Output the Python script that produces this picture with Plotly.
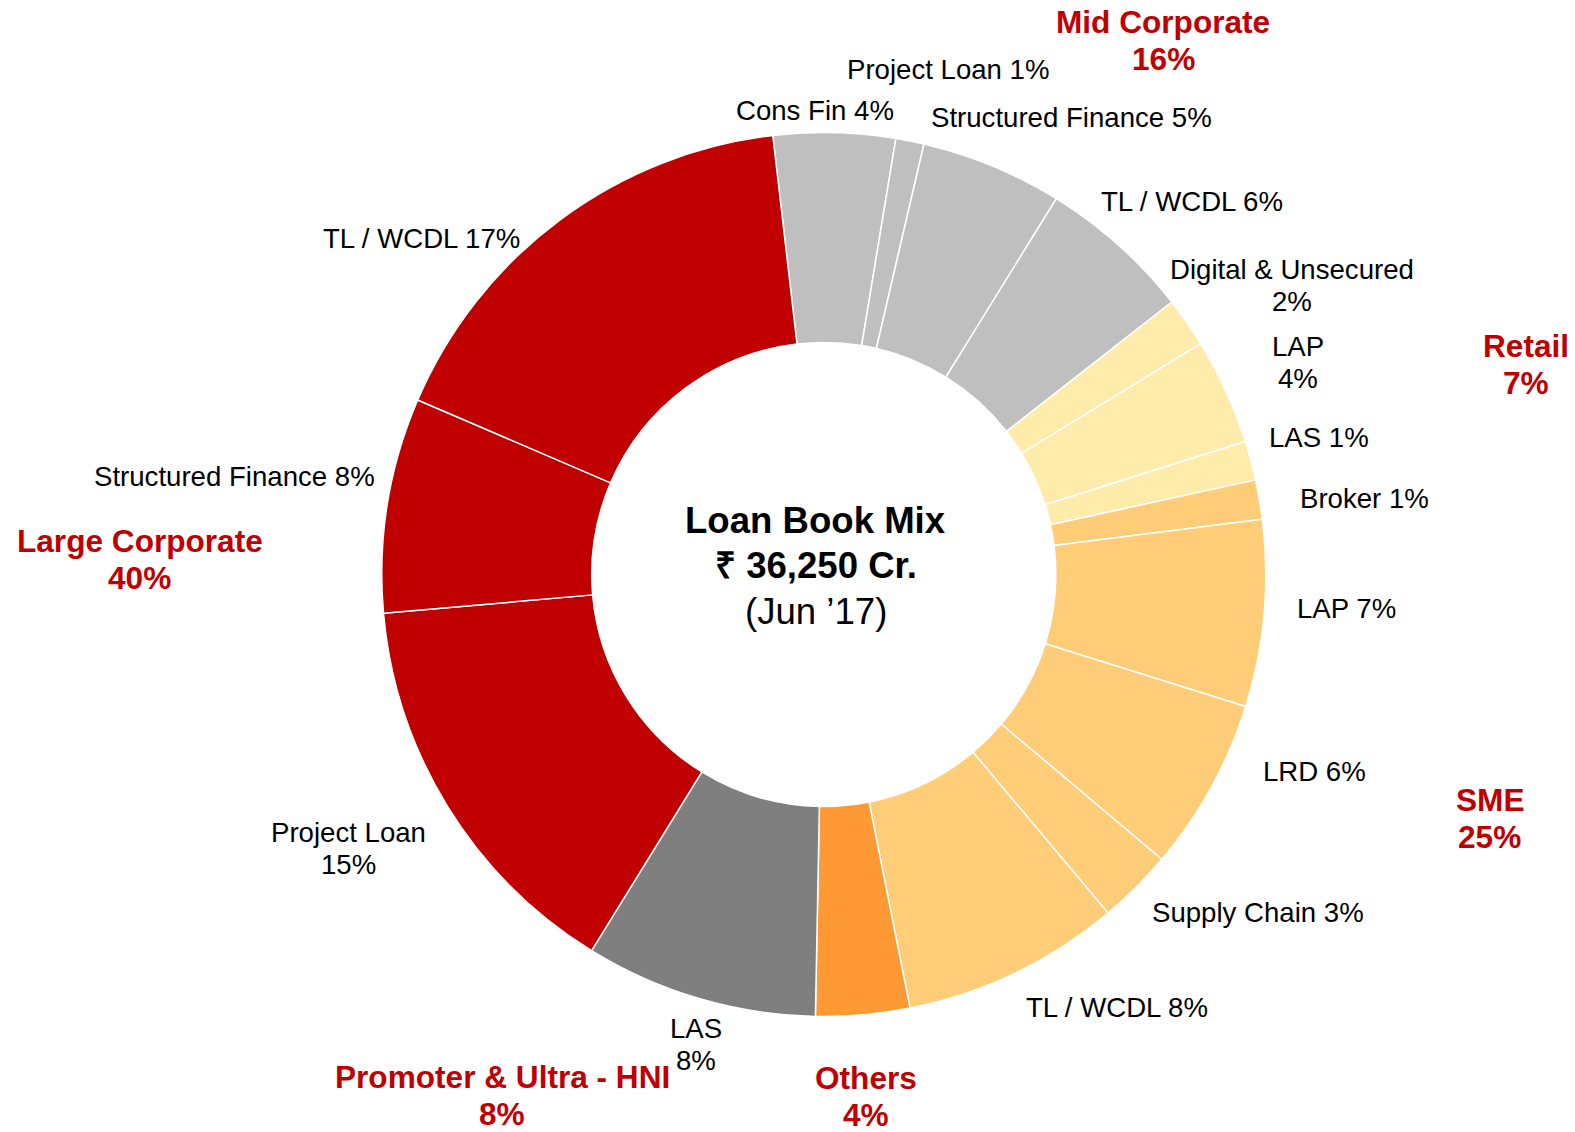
import plotly.graph_objects as go

# ---------------- data ----------------
segment_names = ["Cons Fin", "Project Loan", "Structured Finance", "TL / WCDL",
                 "Digital & Unsecured", "LAP", "LAS",
                 "Broker", "LAP", "LRD", "Supply Chain", "TL / WCDL",
                 "Others", "LAS",
                 "Project Loan", "Structured Finance", "TL / WCDL"]
segment_share = [4.45, 1.03, 5.18, 5.61,
                 1.83, 3.88, 1.43,
                 1.44, 6.82, 6.32, 2.74, 7.99,
                 3.43, 8.50,
                 14.80, 7.86, 16.70]
segment_label_pct = [4, 1, 5, 6,
                     2, 4, 1,
                     1, 7, 6, 3, 8,
                     None, 8,
                     15, 8, 17]
segment_group = ["Mid Corporate"] * 4 + ["Retail"] * 3 + ["SME"] * 5 + \
                ["Others", "Promoter & Ultra - HNI"] + ["Large Corporate"] * 3
group_names = ["Mid Corporate", "Retail", "SME", "Others",
               "Promoter & Ultra - HNI", "Large Corporate"]
group_pct = [16, 7, 25, 4, 8, 40]
center_title = ["Loan Book Mix", "₹ 36,250 Cr.", "(Jun ’17)"]

# ---------------- styles / layout ----------------
W, H = 1575, 1132
FONT = "Liberation Sans, Arial, sans-serif"
RED = "#C00000"
group_colors = {"Mid Corporate": "#BFBFBF", "Retail": "#FFECAA", "SME": "#FFCC77",
                "Others": "#FF9933", "Promoter & Ultra - HNI": "#7F7F7F",
                "Large Corporate": "#C00000"}
slice_colors = [group_colors[g] for g in segment_group]

# pie geometry (pixels)
CX, CY, R = 823.8, 574.5, 442.0
HOLE = 0.525
ROTATION = -6.63

# segment label placement: (x_px, y_px of first line, split into two lines?)
seg_label_pos = [(814.6, 110.5, False), (948.0, 69.3, False), (1071.8, 117.5, False),
                 (1192.3, 201.9, False),
                 (1291.7, 269.5, True), (1297.8, 346.5, True), (1318.9, 438.0, False),
                 (1364.0, 498.2, False), (1346.0, 608.7, False), (1314.8, 771.4, False),
                 (1257.6, 912.0, False), (1117.0, 1007.5, False),
                 None, (696.0, 1028.5, True),
                 (348.5, 832.8, True), (234.0, 476.0, False), (421.9, 239.0, False)]
SEG_GAP = 32
group_label_pos = [(1163.0, 21.5), (1525.8, 346.0), (1489.6, 800.0), (865.8, 1078.0),
                   (502.2, 1076.5), (139.6, 541.0)]
GRP_GAP = 37
center_pos = [(815.6, 520.3), (815.6, 565.5), (815.6, 611.7)]


def px(x, y):
    return x / W, 1 - y / H


fig = go.Figure(go.Pie(
    labels=[f"{n} ({g})" for n, g in zip(segment_names, segment_group)],
    values=segment_share,
    sort=False,
    direction="clockwise",
    rotation=ROTATION,
    hole=HOLE,
    marker=dict(colors=slice_colors, line=dict(color="white", width=1.5)),
    textinfo="none",
    hoverinfo="label+percent",
    showlegend=False,
    domain=dict(x=[(CX - R) / W, (CX + R) / W],
                y=[1 - (CY + R) / H, 1 - (CY - R) / H]),
))

ann = []
for name, pct, pos in zip(segment_names, segment_label_pct, seg_label_pos):
    if pos is None or pct is None:
        continue
    x, y, two = pos
    lines = [name, f"{pct}%"] if two else [f"{name} {pct}%"]
    for i, t in enumerate(lines):
        ax, ay = px(x, y + i * SEG_GAP)
        ann.append(dict(text=t, x=ax, y=ay, xref="paper", yref="paper",
                        xanchor="center", yanchor="middle", showarrow=False,
                        font=dict(family=FONT, size=27.6, color="black")))

for g, p, (x, y) in zip(group_names, group_pct, group_label_pos):
    for i, t in enumerate([g, f"{p}%"]):
        ax, ay = px(x, y + i * GRP_GAP)
        ann.append(dict(text=f"<b>{t}</b>", x=ax, y=ay, xref="paper", yref="paper",
                        xanchor="center", yanchor="middle", showarrow=False,
                        font=dict(family=FONT, size=31.6, color=RED)))

for i, (t, (x, y)) in enumerate(zip(center_title, center_pos)):
    ax, ay = px(x, y)
    ann.append(dict(text=f"<b>{t}</b>" if i < 2 else t, x=ax, y=ay,
                    xref="paper", yref="paper", xanchor="center", yanchor="middle",
                    showarrow=False, font=dict(family=FONT, size=36.6, color="black")))

fig.update_layout(
    width=W, height=H,
    margin=dict(l=0, r=0, t=0, b=0),
    paper_bgcolor="white", plot_bgcolor="white",
    annotations=ann,
)

fig.write_html("out.html", config={"displayModeBar": False},
               post_script="document.body.style.margin='0';")
